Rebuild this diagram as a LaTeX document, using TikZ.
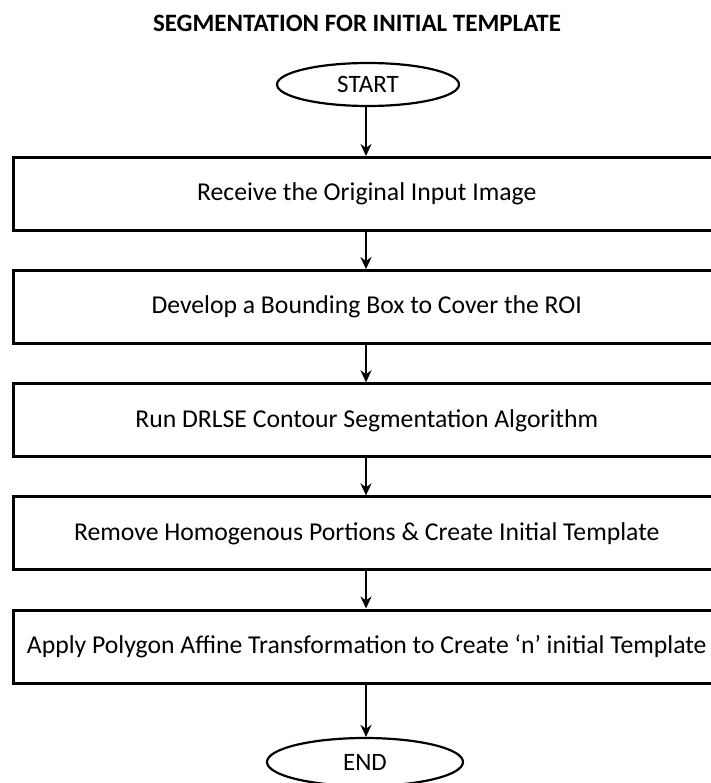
\documentclass[tikz,border=0pt]{standalone}
\usepackage{fontspec}
\setmainfont{Carlito}
\usetikzlibrary{shapes.geometric,arrows.meta}
\begin{document}
\begin{tikzpicture}[x=1pt,y=-1pt,
  stepbox/.style={draw,line width=3pt,minimum width=706.5pt,minimum height=73pt,inner sep=0pt,font=\fontsize{25.7}{30}\selectfont},
  term/.style={draw,ellipse,line width=2.2pt,minimum width=182pt,minimum height=43pt,inner sep=0pt,font=\fontsize{25}{30}\selectfont},
  flow/.style={line width=2.8pt,-{Stealth[length=12pt,width=11pt]}}]
\useasboundingbox (0,0) rectangle (710,783);
\node[font=\bfseries\fontsize{25}{30}\selectfont] (title) at (357,23) {SEGMENTATION FOR INITIAL TEMPLATE};
\node[term] (start) at (368,84.5) {START};
\node[stepbox] (b1) at (366.75,194) {Receive the Original Input Image};
\node[stepbox] (b2) at (366.75,307.1) {Develop a Bounding Box to Cover the ROI};
\node[stepbox] (b3) at (366.75,420.3) {Run DRLSE Contour Segmentation Algorithm};
\node[stepbox] (b4) at (366.75,533.4) {Remove Homogenous Portions \& Create Initial Template};
\node[stepbox] (b5) at (366.75,646.5) {Apply Polygon Affine Transformation to Create ‘n’ initial Template};
\node[term,minimum width=196pt,minimum height=48pt] (end) at (365,762) {END};
\coordinate (ax) at (366,0);
\draw[flow] (ax |- start.south) -- (ax |- b1.north);
\draw[flow] (ax |- b1.south) -- (ax |- b2.north);
\draw[flow] (ax |- b2.south) -- (ax |- b3.north);
\draw[flow] (ax |- b3.south) -- (ax |- b4.north);
\draw[flow] (ax |- b4.south) -- (ax |- b5.north);
\draw[flow] (ax |- b5.south) -- (ax |- end.north);
\end{tikzpicture}
\end{document}
